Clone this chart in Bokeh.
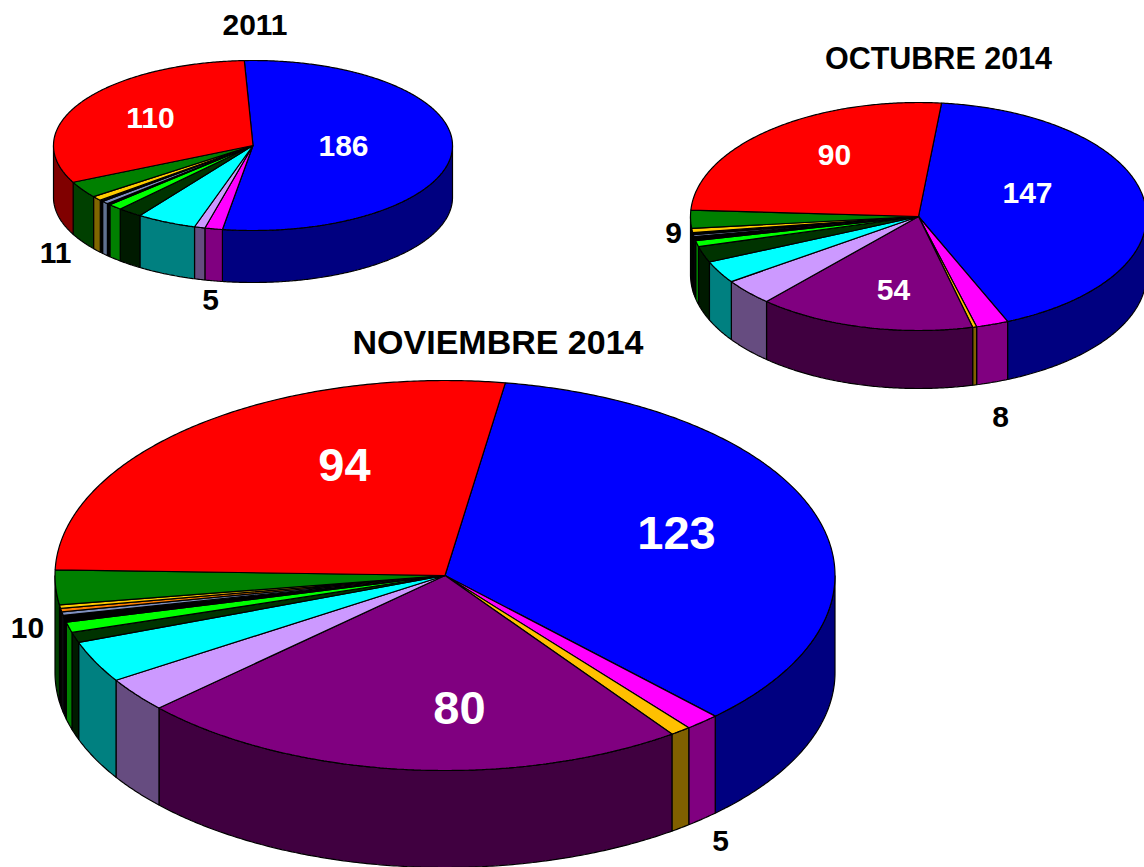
import numpy as np
from bokeh.embed import file_html
from bokeh.resources import INLINE
from bokeh.plotting import figure
from bokeh.models import Range1d
from bokeh.core.properties import value

# ---- data: clockwise from the start of the blue slice
SLICE_NAMES = ["blue", "magenta", "gold", "purple", "lilac", "cyan", "darkgreen",
               "lime", "black", "slate", "black2", "orange", "yellow", "green", "red"]
TOP_COLORS = ["#0000ff", "#ff00ff", "#ffc000", "#800080", "#cc99ff", "#00ffff", "#003300",
              "#00ff00", "#000000", "#8090c0", "#000000", "#ff8000", "#ffcc00", "#008000", "#ff0000"]
SIDE_COLORS = ["#000080", "#800080", "#806000", "#400040", "#664c80", "#008080", "#001a00",
               "#008000", "#000000", "#607090", "#000000", "#804000", "#806600", "#004000", "#800000"]

values_2011 = [186, 5, 0, 0, 3, 17, 7, 4, 1, 2, 1, 0, 3, 11, 110]
values_oct = [147, 8, 1, 54, 13, 11, 8, 3, 2, 1, 1, 0, 2, 9, 90]
values_nov = [123, 5, 3, 80, 10, 12, 3, 3, 2, 1, 0, 1, 1, 10, 94]

titles = ["2011", "OCTUBRE 2014", "NOVIEMBRE 2014"]

# ---- layout: pies in page pixels
PIES = [
    dict(values=values_2011, cx=252.5, cy=145.0, rx=199.5, ry=85.0, depth=52.0, start=-2.5),
    dict(values=values_oct, cx=918.0, cy=216.0, rx=228.0, ry=114.0, depth=58.0, start=5.8),
    dict(values=values_nov, cx=444.5, cy=575.0, rx=390.0, ry=195.0, depth=97.0, start=8.9),
]
TITLE_POS = [(254.5, 24, 30), (938, 57, 30.5), (497.5, 341, 34)]
# label, x, y, font px, colour (text anchors in page pixels)
LABELS = [
    ("186", 343, 145, 30, "#ffffff"),
    ("110", 150, 117, 30, "#ffffff"),
    ("11", 55, 252, 30, "#000000"),
    ("5", 210, 299, 30, "#000000"),
    ("147", 1027, 192, 30, "#ffffff"),
    ("90", 834, 154, 30, "#ffffff"),
    ("54", 893, 289, 30, "#ffffff"),
    ("9", 673, 232, 30, "#000000"),
    ("8", 1000, 416, 30, "#000000"),
    ("123", 676, 532, 47, "#ffffff"),
    ("94", 344, 464, 47, "#ffffff"),
    ("80", 459, 707, 47, "#ffffff"),
    ("10", 27, 627, 30, "#000000"),
    ("5", 720, 840, 30, "#000000"),
]

W, H = 1144, 867
p = figure(width=W, height=H, x_range=Range1d(0, W), y_range=Range1d(H, 0),
           toolbar_location=None, output_backend="svg", min_border=0)
p.axis.visible = False
p.grid.visible = False
p.outline_line_color = None


def rim(pie, a0, a1):
    """Rim points from a0 to a1, angles in degrees clockwise from the top."""
    n = max(2, int(abs(a1 - a0)) * 2 + 2)
    t = np.radians(np.linspace(a0, a1, n))
    return pie["cx"] + pie["rx"] * np.sin(t), pie["cy"] - pie["ry"] * np.cos(t)


for pie in PIES:
    v = np.array(pie["values"], float)
    edges = pie["start"] + np.concatenate([[0], np.cumsum(v)]) * 360.0 / v.sum()
    # sides: the part of every slice that faces the viewer (90..270 degrees)
    for i, color in enumerate(SIDE_COLORS):
        a0, a1 = max(edges[i], 90.0), min(edges[i + 1], 270.0)
        if a1 <= a0:
            continue
        x, y = rim(pie, a0, a1)
        px = np.concatenate([x, x[::-1]])
        py = np.concatenate([y, y[::-1] + pie["depth"]])
        p.patch(px, py, fill_color=color, line_color="#000000", line_width=1.2)
    # tops
    for i, color in enumerate(TOP_COLORS):
        if pie["values"][i] == 0:
            continue
        x, y = rim(pie, edges[i], edges[i + 1])
        px = np.concatenate([[pie["cx"]], x])
        py = np.concatenate([[pie["cy"]], y])
        p.patch(px, py, fill_color=color, line_color="#000000", line_width=1.2)

for (x, y, size), title in zip(TITLE_POS, titles):
    p.text([x], [y], text=[title], text_font=value("Liberation Sans"), text_font_style="bold",
           text_font_size=f"{size}px", text_align="center", text_baseline="middle", text_color="#000000")

for label, x, y, size, color in LABELS:
    p.text([x], [y], text=[label], text_font=value("Liberation Sans"), text_font_style="bold",
           text_font_size=f"{size}px", text_align="center", text_baseline="middle", text_color=color)

open("out.html", "w").write(file_html(p, INLINE))
